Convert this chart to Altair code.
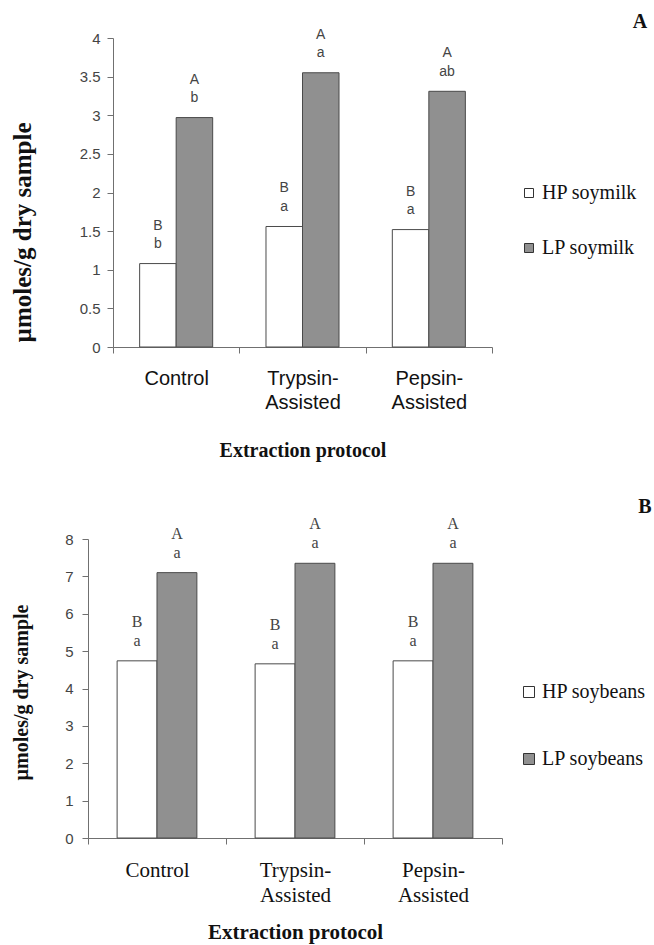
import altair as alt
import pandas as pd

protocols = ["Control", "Trypsin-Assisted", "Pepsin-Assisted"]

milk_series = ["HP soymilk", "LP soymilk"]
milk_hp = [1.08, 1.56, 1.52]
milk_lp = [2.97, 3.55, 3.31]
milk_hp_letters = ["B\nb", "B\na", "B\na"]
milk_lp_letters = ["A\nb", "A\na", "A\nab"]
milk_ticks = [0, 0.5, 1, 1.5, 2, 2.5, 3, 3.5, 4]

bean_series = ["HP soybeans", "LP soybeans"]
bean_hp = [4.74, 4.66, 4.74]
bean_lp = [7.10, 7.35, 7.35]
bean_hp_letters = ["B\na", "B\na", "B\na"]
bean_lp_letters = ["A\na", "A\na", "A\na"]
bean_ticks = [0, 1, 2, 3, 4, 5, 6, 7, 8]

y_title = "µmoles/g dry sample"
x_title = "Extraction protocol"


def make_df(series, hp, lp, hp_let, lp_let):
    rows = []
    for i, p in enumerate(protocols):
        rows.append({"protocol": p, "series": series[0], "value": hp[i], "letters": hp_let[i]})
        rows.append({"protocol": p, "series": series[1], "value": lp[i], "letters": lp_let[i]})
    return pd.DataFrame(rows)


SANS = "Liberation Sans"
SERIF = "Liberation Serif"
AXIS_GRAY = "#707070"
LABEL_EXPR = "split(replace(datum.label, '-', '- '), ' ')"

# plot-area origin in the page is (88, 38); each panel gets its own pixel range
W, H = 414, 800


def panel(df, series, ticks, ymax, cfg):
    base = alt.Chart(df)
    x = alt.X("protocol:N", sort=protocols,
              scale=alt.Scale(paddingInner=0, paddingOuter=0, range=cfg["xr"]),
              axis=alt.Axis(title=x_title, orient="bottom", offset=cfg["xoff"],
                            tickBand="extent", labelAngle=0,
                            labelExpr=LABEL_EXPR, labelFont=cfg["xfont"],
                            labelFontSize=cfg["xfs"], labelColor="#111",
                            labelLineHeight=cfg["xlh"], labelPadding=cfg["xlp"],
                            labelBaseline="top",
                            tickSize=6, tickColor=AXIS_GRAY, domainColor=AXIS_GRAY,
                            titleFont=SERIF, titleFontWeight="bold",
                            titleFontSize=cfg["xtfs"],
                            titleColor="#111", titlePadding=cfg["xtp"]))
    xo = alt.XOffset("series:N", sort=series,
                     scale=alt.Scale(paddingInner=0, paddingOuter=0.73))
    y = alt.Y("value:Q", scale=alt.Scale(domain=[0, ymax], nice=False, range=cfg["yr"]),
              axis=alt.Axis(title=y_title, orient="left", offset=cfg["yoff"],
                            values=ticks, format="~g", grid=False,
                            labelFont=SANS, labelFontSize=15, labelColor="#444",
                            labelPadding=cfg["ylp"], tickSize=6, tickColor=AXIS_GRAY,
                            domainColor=AXIS_GRAY, titleFont=SERIF,
                            titleFontWeight="bold", titleFontSize=cfg["ytfs"],
                            titleColor="#111", titleAngle=270,
                            titleBaseline="middle", titleAlign="center",
                            titleX=cfg["ytx"], titleY=cfg["yty"]))
    bars = base.mark_bar(stroke="#4a4a4a", strokeWidth=1).encode(
        x=x, xOffset=xo, y=y,
        fill=alt.Fill("series:N", sort=series,
                      scale=alt.Scale(domain=series, range=["white", "#909090"]),
                      legend=alt.Legend(title=None, orient="none",
                                        legendX=cfg["lx"], legendY=cfg["ly"],
                                        symbolType="square", symbolSize=cfg["ss"],
                                        symbolStrokeColor="#333", symbolStrokeWidth=1,
                                        labelFont=SERIF, labelFontSize=cfg["lfs"],
                                        labelColor="#111", labelOffset=3,
                                        rowPadding=cfg["lrp"], padding=0,
                                        labelLimit=300)),
    )
    letters = base.mark_text(baseline="bottom", dy=cfg["tdy"], lineBreak="\n",
                             lineHeight=cfg["tlh"], font=cfg["tfont"],
                             fontSize=cfg["tfs"], color="#444").encode(
        x=x, xOffset=xo, y=y, text="letters:N")
    return alt.layer(bars, letters)


def tag(label, px, py):
    return alt.Chart(pd.DataFrame({"tag": [label]})).mark_text(
        font=SERIF, fontWeight="bold", fontSize=20, color="#111",
        baseline="middle", align="center").encode(
        x=alt.value(px), y=alt.value(py), text="tag:N")


milk_df = make_df(milk_series, milk_hp, milk_lp, milk_hp_letters, milk_lp_letters)
bean_df = make_df(bean_series, bean_hp, bean_lp, bean_hp_letters, bean_lp_letters)

panel_a = panel(milk_df, milk_series, milk_ticks, 4, dict(
    xr=[25, 404], yr=[309, 0], xoff=-491, yoff=-25,
    xfont=SANS, xfs=20, xlh=24, xlp=15, xtfs=20, xtp=28,
    ylp=7, ytfs=25, ytx=-91, yty=194,
    lx=431, ly=145, lrp=35, ss=81, lfs=20,
    tdy=-31, tlh=18.5, tfont=SANS, tfs=14))

panel_b = panel(bean_df, bean_series, bean_ticks, 8, dict(
    xr=[0, 414], yr=[800, 501], xoff=0, yoff=0,
    xfont=SERIF, xfs=21, xlh=25, xlp=15, xtfs=21, xtp=16,
    ylp=9, ytfs=20, ytx=-67, yty=654,
    lx=431, ly=644, lrp=47, ss=121, lfs=20,
    tdy=-31, tlh=19, tfont=SERIF, tfs=16))

chart = alt.layer(panel_a, panel_b, tag("A", 552, -16), tag("B", 557, 469)).resolve_scale(
    x="independent", y="independent", xOffset="independent", fill="independent"
).properties(
    width=W, height=H,
    autosize=alt.AutoSizeParams(type="none"),
    padding={"left": 88, "top": 38, "right": 152, "bottom": 107},
    background="white").configure_view(stroke=None)

chart.save("out.html", embed_options={"renderer": "svg", "actions": False})
